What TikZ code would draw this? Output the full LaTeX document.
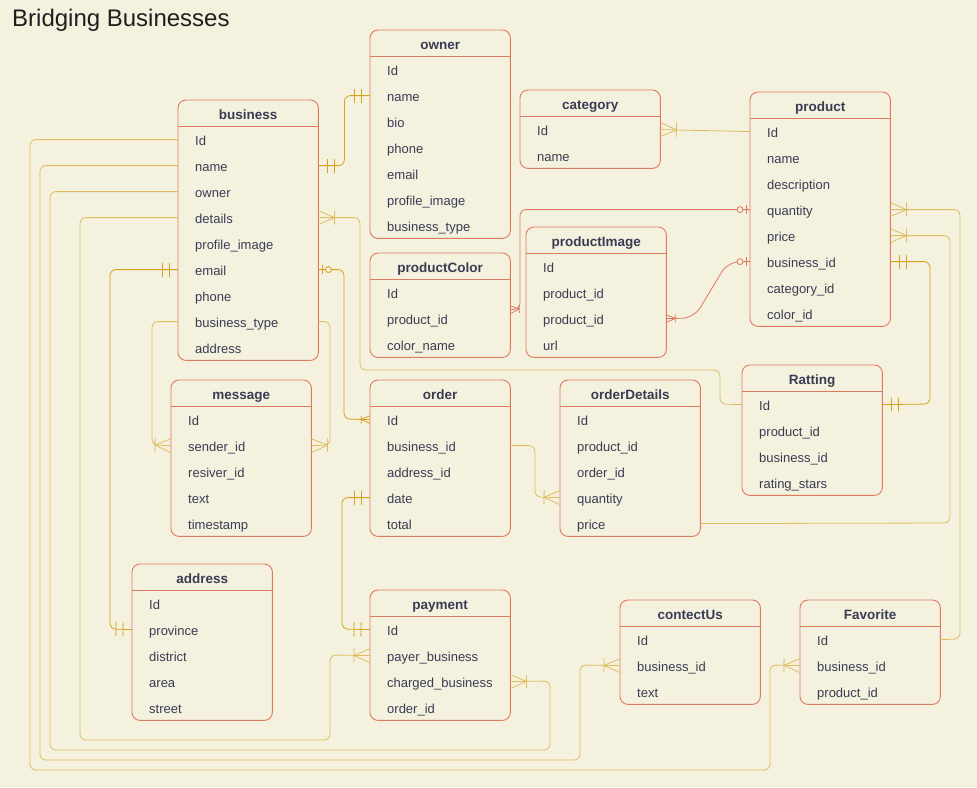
\documentclass[tikz,border=0pt]{standalone}
\usepackage{fontspec}
\setmainfont{Liberation Sans}
\usepackage{xcolor}
\usepackage{tikz}
\usetikzlibrary{calc, decorations.markings}
\definecolor{erCream}{RGB}{244, 241, 222}
\definecolor{erSalmon}{RGB}{224, 122, 95}
\definecolor{erSlate}{RGB}{57, 60, 84}
\definecolor{erGold}{RGB}{224, 188, 96}
\definecolor{erGoldDeep}{RGB}{214, 162, 28}
% ER end marks, entity at the origin, line coming from -x
\newcommand{\erManyMark}[1]{\draw[sharp corners, #1] (-16pt,-7pt) -- (-16pt,7pt) (0pt,-7pt) -- (-16pt,0pt) -- (0pt,7pt);}
\newcommand{\erOneMark}[1]{\draw[sharp corners, #1] (-9pt,-7pt) -- (-9pt,7pt) (-16pt,-7pt) -- (-16pt,7pt);}
\newcommand{\erZeroMark}[1]{\draw[sharp corners, #1] (-4pt,-4.5pt) -- (-4pt,4.5pt); \draw[fill=erCream, #1] (-10pt,0pt) circle[radius=3pt];}
\tikzset{
    entHead/.style={
        anchor=north west,
        minimum width=140pt,
        minimum height=26pt,
        inner sep=0pt,
        text height=12pt,
        text depth=0pt,
        font=\fontsize{13.5}{16}\selectfont\bfseries,
        text=erSlate
    },
    entRow/.style={
        anchor=north west,
        minimum height=26pt,
        inner xsep=17pt,
        inner ysep=0pt,
        text width=106pt,
        text height=12pt,
        text depth=1pt,
        align=left,
        font=\fontsize{13}{15}\selectfont,
        text=erSlate
    },
    entFrame/.style={
        draw=erSalmon,
        line width=0.9pt,
        rounded corners=8pt
    },
    link/.style={
        color=erGold,
        line width=0.8pt,
        rounded corners=6pt
    },
    linkDeep/.style={color=erGoldDeep},
    imgLink/.style={color=erSalmon},
    titleText/.style={
        font=\fontsize{24}{28}\selectfont,
        text=black!88,
        inner sep=0pt
    },
    many start/.style={postaction={decorate, decoration={markings,
        mark=at position 0 with {\erManyMark{xscale=-1}}}}},
    many end/.style={postaction={decorate, decoration={markings,
        mark=at position 1 with {\erManyMark{}}}}},
    few end/.style={postaction={decorate, decoration={markings,
        mark=at position 1 with {\erManyMark{scale=0.55}}}}},
    one start/.style={postaction={decorate, decoration={markings,
        mark=at position 0 with {\erOneMark{xscale=-1}}}}},
    one end/.style={postaction={decorate, decoration={markings,
        mark=at position 1 with {\erOneMark{}}}}},
    zero start/.style={postaction={decorate, decoration={markings,
        mark=at position 0 with {\erZeroMark{xscale=-1}}}}}
}
% table: name, left, top, title, fields
\newcommand{\erEntity}[5]{%
  \node[entHead] (#1) at (#2,#3) {#4};
  \foreach \fld [count=\i] in {#5} {
    \node[entRow] (#1-\i) at ($(#1.south west)+(0,{26*(\i-1)})$) {\mbox{\fld}};
    \xdef\erRows{\i}
  }
  \draw[entFrame] (#1.north west) rectangle ($(#1.south east)+(0,26*\erRows)$);
  \draw[entFrame] (#1.south west) -- (#1.south east);
}

\begin{document}
\begin{tikzpicture}[x=1pt, y=-1pt]
  \useasboundingbox (0,0) rectangle (977,787);
  \fill[erCream] (0,0) rectangle (977,787);

  \node[titleText, anchor=base west] (title) at (12,27) {Bridging Businesses};

  % Tables
  \erEntity{business}{178}{100}{business}{Id,name,owner,details,profile\_image,email,phone,business\_type,address}
  \erEntity{owner}{370}{30}{owner}{Id,name,bio,phone,email,profile\_image,business\_type}
  \erEntity{category}{520}{90}{category}{Id,name}
  \erEntity{product}{750}{92}{product}{Id,name,description,quantity,price,business\_id,category\_id,color\_id}
  \erEntity{productColor}{370}{253}{productColor}{Id,product\_id,color\_name}
  \erEntity{productImage}{526}{227}{productImage}{Id,product\_id,product\_id,url}
  \erEntity{message}{171}{380}{message}{Id,sender\_id,resiver\_id,text,timestamp}
  \erEntity{order}{370}{380}{order}{Id,business\_id,address\_id,date,total}
  \erEntity{orderDetails}{560}{380}{orderDetails}{Id,product\_id,order\_id,quantity,price}
  \erEntity{ratting}{742}{365}{Ratting}{Id,product\_id,business\_id,rating\_stars}
  \erEntity{address}{132}{564}{address}{Id,province,district,area,street}
  \erEntity{payment}{370}{590}{payment}{Id,payer\_business,charged\_business,order\_id}
  \erEntity{contectUs}{620}{600}{contectUs}{Id,business\_id,text}
  \erEntity{favorite}{800}{600}{Favorite}{Id,business\_id,product\_id}

  % Relations of business
  \draw[link, linkDeep, one start, one end] (business-2.east) -- ++(26,0) |- (owner-2.west);
  \draw[link, many start] (business-4.east) -| (360,370) -| (720,404) -- (ratting-1.west);
  \draw[link, linkDeep, zero start, few end] (business-6.east) -| (344,419) -- (order-1.west);
  \draw[link, many end] (business-8.east) -| (330,445) -- (message-2.east);
  \draw[link, many end] (business-8.west) -| (152,445) -- (message-2.west);
  \draw[link, linkDeep, one start, one end] (business-6.west) -| (110,629) -- (address-2.west);
  \draw[link, many end] (business-1.west) -| (30,770) -| (770,665) -- (favorite-2.west);
  \draw[link, many end] (business-2.west) -| (40,760) -| (580,665) -- (contectUs-2.west);
  \draw[link, many end] (business-3.west) -| (50,750) -| (550,681) -- (payment-3.east);
  \draw[link, many end] (business-4.west) -| (80,740) -| (330,655) -- (payment-2.west);

  % Relations of product
  \draw[link, many end] (product-1.west) -- (category-1.east);
  \draw[link, imgLink, zero start, few end] (product-4.west) -| (520,309) -- ($(productColor-2.east)+(0,-9)$);
  \draw[link, imgLink, rounded corners=12pt, zero start, few end] (product-6.west) -- ++(-22,0) -- (694,318) -- (productImage-3.east);
  \draw[link, many start] (product-4.east) -| (960,639) -- (favorite-1.east);
  \draw[link, many start] (product-5.east) -| (950,523) -- (orderDetails-5.east);
  \draw[link, linkDeep, one start, one end] (product-6.east) -| (930,404) -- (ratting-1.east);

  % Relations of order
  \draw[link, many end] (order-2.east) -| (535,497) -- (orderDetails-4.west);
  \draw[link, linkDeep, one start, one end] (order-4.west) -| (342,629) -- (payment-1.west);
\end{tikzpicture}
\end{document}
